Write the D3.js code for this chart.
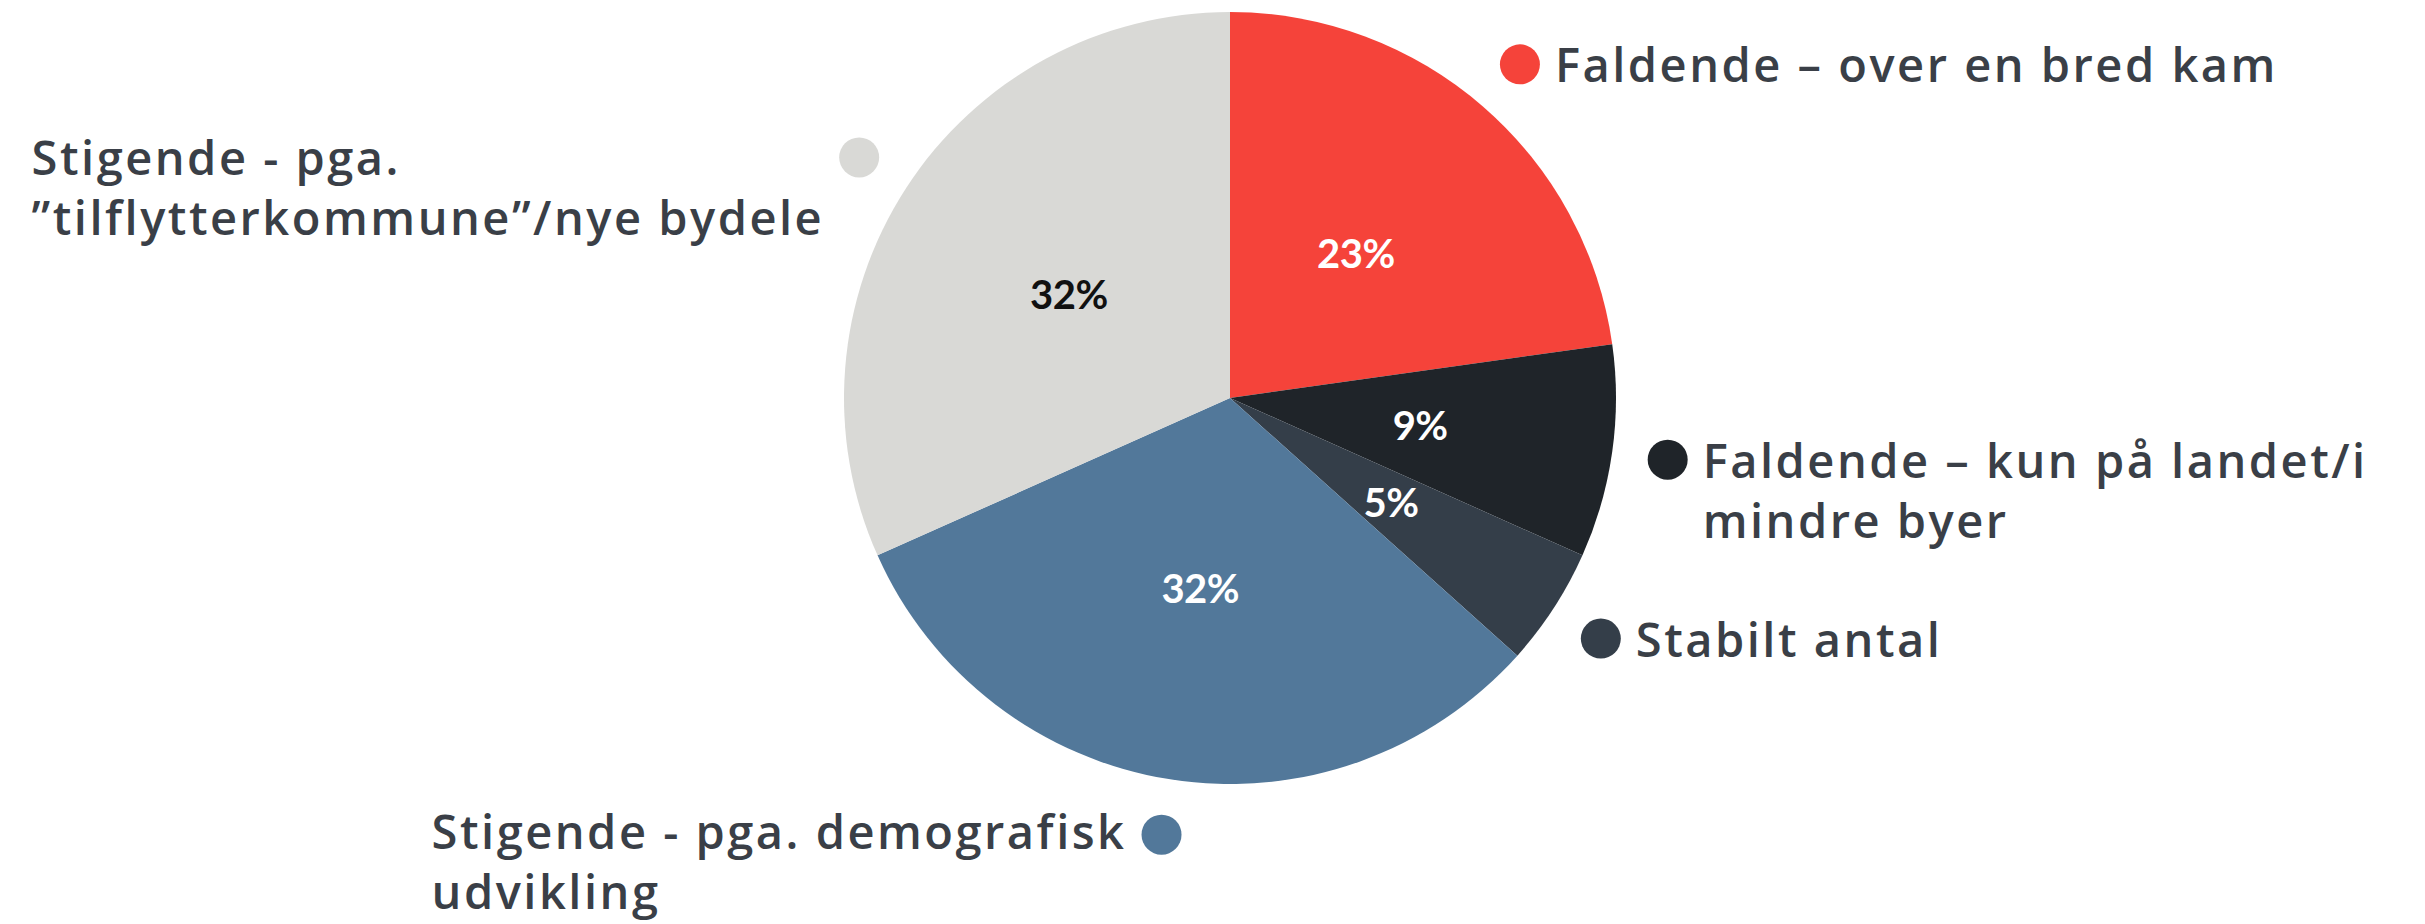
<!DOCTYPE html>
<html>
<head>
<meta charset="utf-8">
<script src="https://cdn.jsdelivr.net/npm/d3@7"></script>
<style>
  body { margin: 0; background: #fff; }
  svg { display: block; }
</style>
</head>
<body>
<svg id="pie" width="2425" height="924"></svg>
<script>
// andele i procent, med uret fra kl. 12
categories = [
    ["Faldende \u2013 over en bred kam"],
    ["Faldende \u2013 kun p\u00e5 landet/i", "mindre byer"],
    ["Stabilt antal"],
    ["Stigende - pga. demografisk", "udvikling"],
    ["Stigende - pga.", "\u201dtilflytterkommune\u201d/nye bydele"]
]
values = [23, 9, 5, 32, 32]
colors = ["#F5433A", "#1F2429", "#343E49", "#52789A", "#D9D9D6"]
labelColors = ["#fff", "#fff", "#fff", "#fff", "#111"]

svg = d3.select('#pie')

cx = 1230
cy = 398
radius = 386

g = svg.append('g')
    .attr('transform', 'translate(' + cx + ',' + cy + ')')

pie = d3.pie().sort(null).value(d => d)
arcs = pie(values)

arc = d3.arc().innerRadius(0).outerRadius(radius)
// procent-tal sidder halvvejs ude
labelArc = d3.arc().innerRadius(192).outerRadius(192)
// prikkerne sidder lidt uden for cirklen
dotArc = d3.arc().innerRadius(442).outerRadius(442)

g.selectAll('path.slice')
    .data(arcs)
    .enter()
    .append('path')
    .attr('class', 'slice')
    .attr('d', arc)
    .attr('fill', (d, i) => colors[i])

g.selectAll('text.pct')
    .data(arcs)
    .enter()
    .append('text')
    .attr('class', 'pct')
    .attr('transform', d => 'translate(' + labelArc.centroid(d) + ')')
    .attr('text-anchor', 'middle')
    .attr('dominant-baseline', 'central')
    .attr('font-family', 'Lato, sans-serif')
    .attr('font-weight', 'bold')
    .attr('font-size', 40)
    .attr('letter-spacing', -0.5)
    .attr('fill', (d, i) => labelColors[i])
    .text(d => d.data + '%')

// legend
lineGap = 60
legend = g.selectAll('g.legend')
    .data(arcs)
    .enter()
    .append('g')
    .attr('class', 'legend')
    .attr('transform', d => 'translate(' + dotArc.centroid(d) + ')')

legend.append('circle')
    .attr('r', 20)
    .attr('fill', (d, i) => colors[i])

legend.each(function(d, i) {
    var item = d3.select(this)
    var mid = (d.startAngle + d.endAngle) / 2
    var right = mid < Math.PI
    var txt = item.append('text')
        .attr('font-family', '"Open Sans", sans-serif')
        .attr('font-weight', 600)
        .attr('font-size', 47)
        .attr('letter-spacing', 2.5)
        .attr('fill', '#3A3F47')
    categories[i].forEach(function(line, k) {
        txt.append('tspan')
            .attr('x', 0)
            .attr('y', k * lineGap)
            .attr('dominant-baseline', 'central')
            .text(line)
    })
    if (right) {
        txt.attr('transform', 'translate(35,0)')
    } else {
        var w = d3.max(txt.selectAll('tspan').nodes(), n => n.getComputedTextLength())
        txt.attr('transform', 'translate(' + (-35 - w) + ',' + (i == 3 ? -4 : 0) + ')')
    }
})
</script>
</body>
</html>
